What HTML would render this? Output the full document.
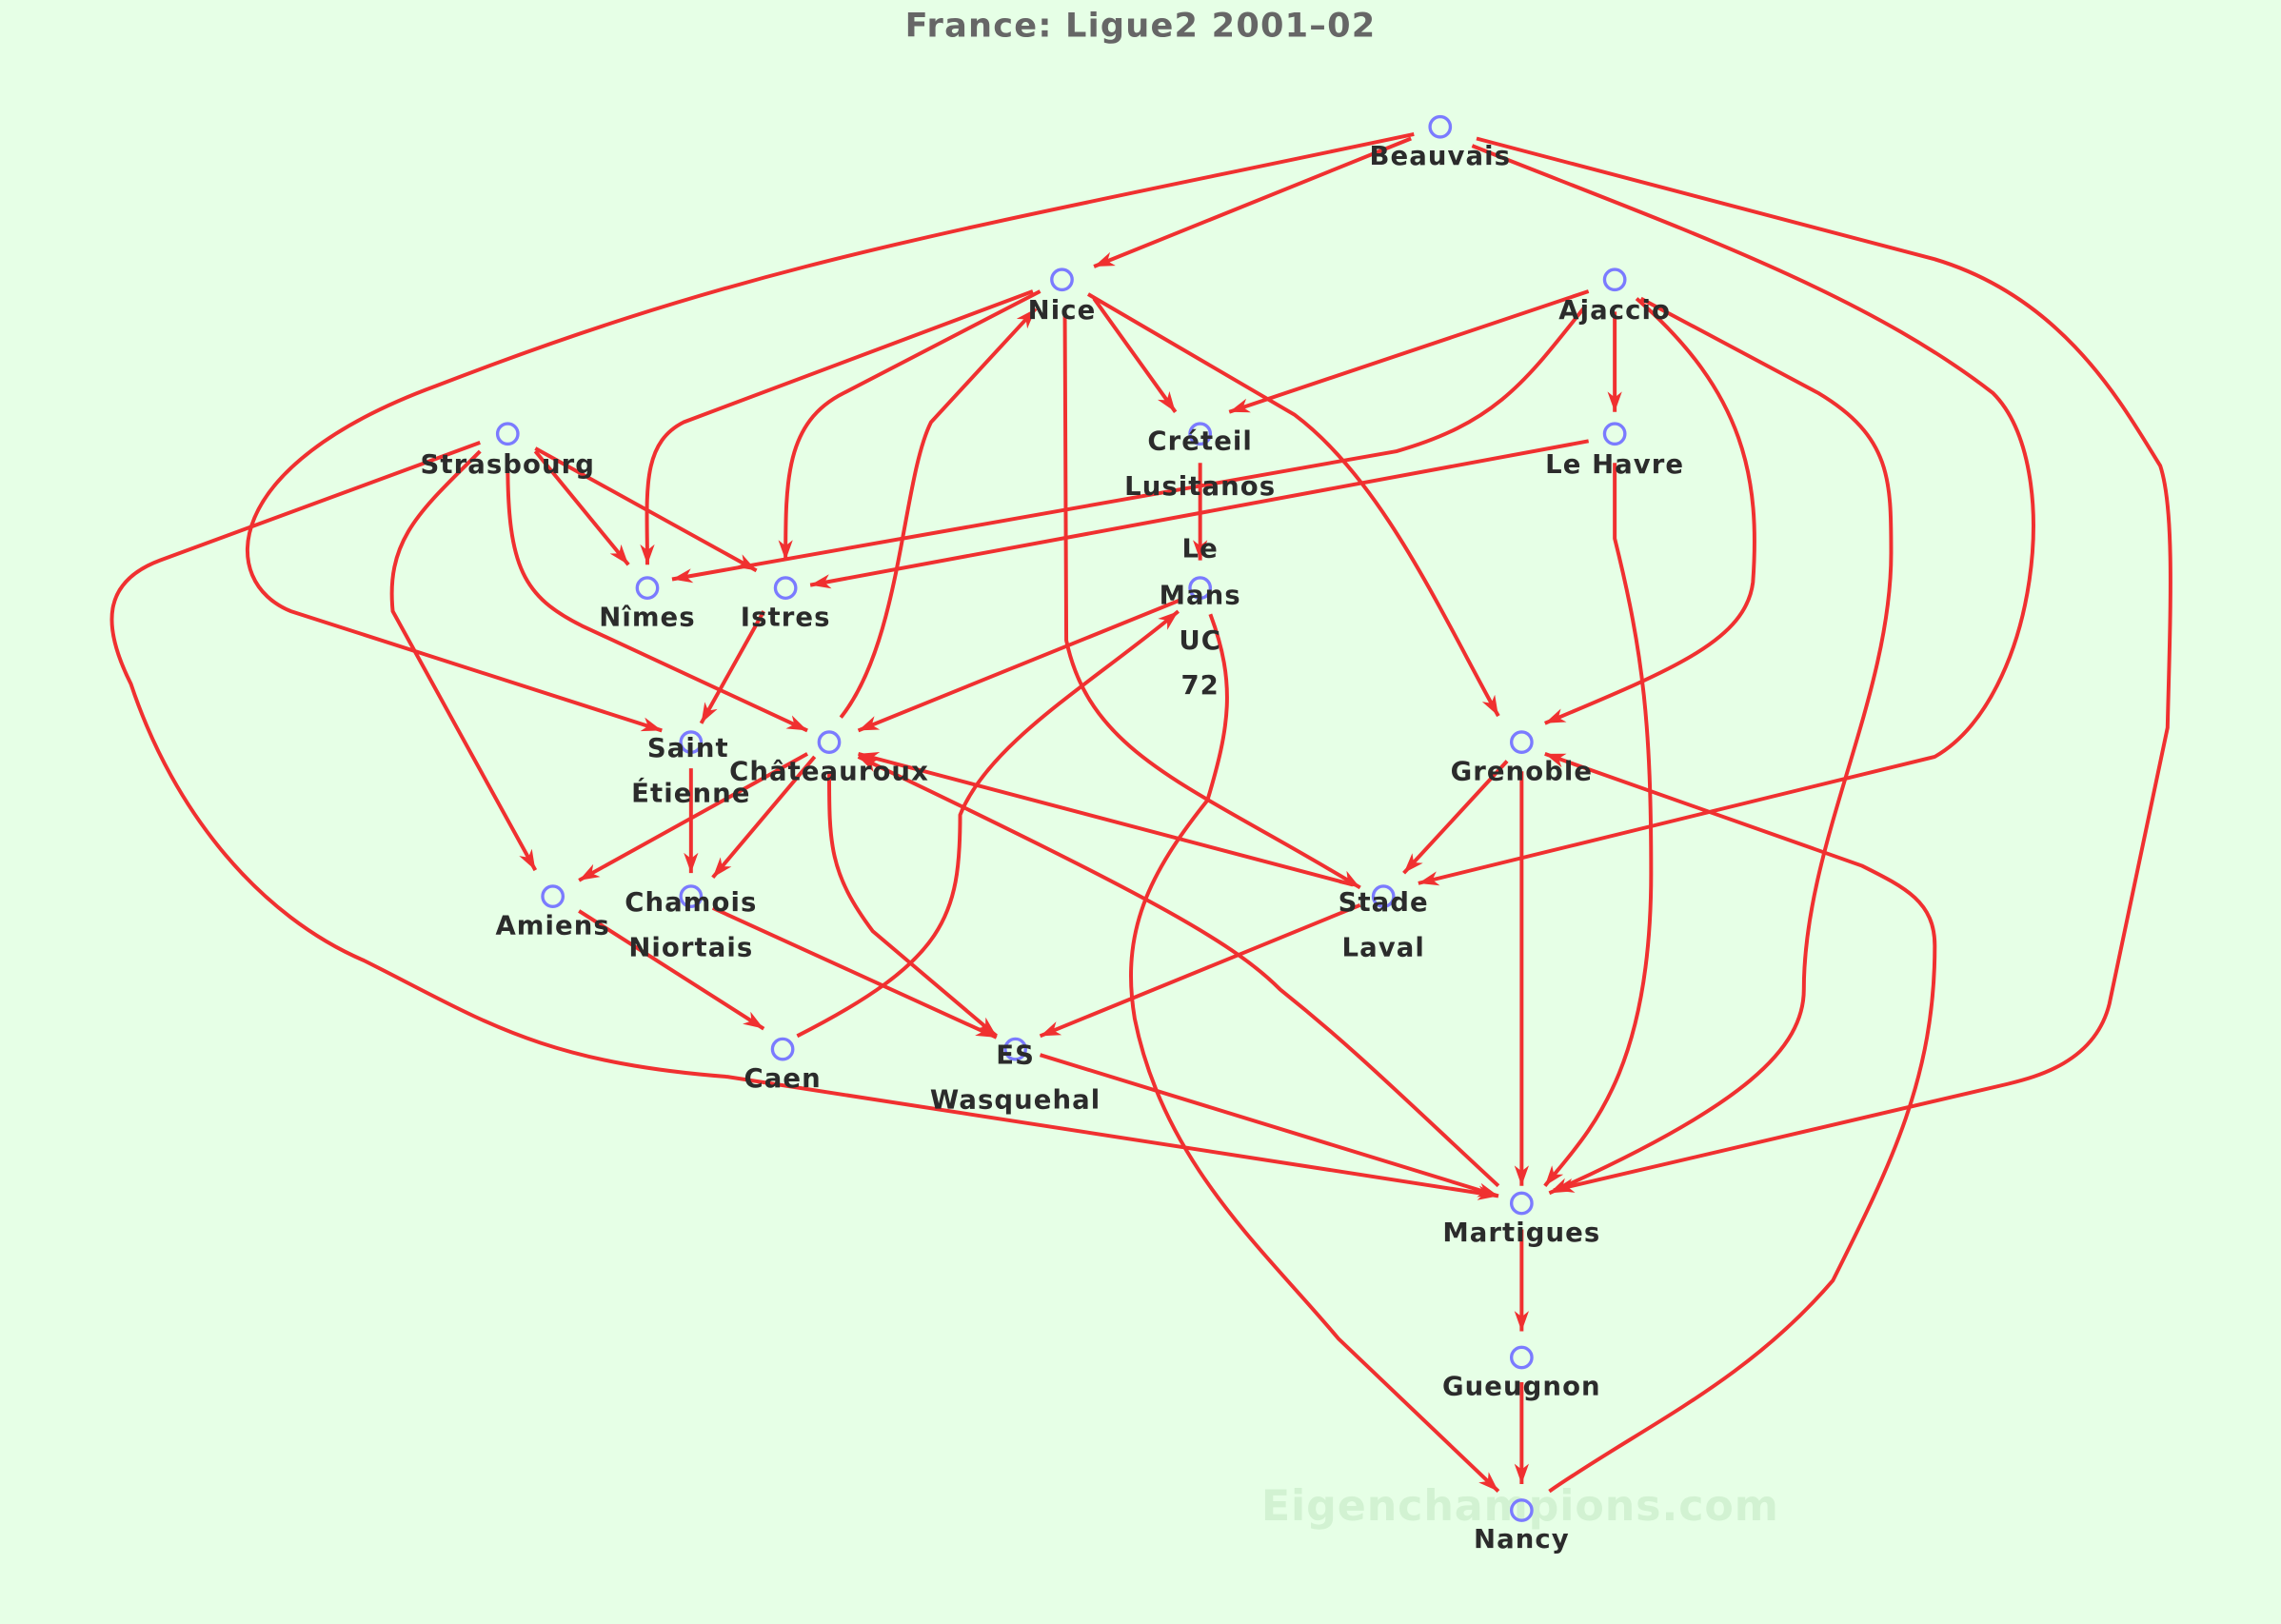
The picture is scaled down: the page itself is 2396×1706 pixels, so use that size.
<!DOCTYPE html>
<html><head><meta charset="utf-8"><style>
html,body{margin:0;padding:0;background:#e6ffe6;}
svg{display:block;}
text{font-family:"DejaVu Sans","Liberation Sans",sans-serif;font-weight:bold;}
</style></head><body>
<svg width="2396" height="1706" viewBox="0 0 1568 1116" xmlns="http://www.w3.org/2000/svg">
<defs>
<marker id="a" markerUnits="userSpaceOnUse" markerWidth="16" markerHeight="12" refX="14" refY="5" orient="auto">
<path d="M0,0 L14,5 L0,10 L4,5 Z" fill="#f03030"/>
</marker>
</defs>
<rect width="1568" height="1116" fill="#e6ffe6"/>
<text x="784" y="25" text-anchor="middle" font-size="23" letter-spacing="0.8" fill="#666">France: Ligue2 2001–02</text>
<text x="1045" y="1045" text-anchor="middle" font-size="29" letter-spacing="0.6" fill="#d2f2d2">Eigenchampions.com</text>
<g fill="none" stroke="#f03030" stroke-width="2.6" marker-end="url(#a)">
<path d="M970,95 L752,183"/>
<path d="M972,92 C650,160 520,180 300,265 C150,320 150,400 200,420 L455,502"/>
<path d="M1012,100 C1150,155 1280,200 1370,270 C1420,320 1400,480 1330,520 L975,607"/>
<path d="M1015,95 L1330,178 C1420,205 1460,280 1485,320 C1495,350 1492,420 1490,500 L1450,690 C1440,730 1400,740 1380,745 L1068,818"/>
<path d="M710,200 L470,290 C440,305 445,340 445,388"/>
<path d="M715,200 L580,270 C540,290 540,330 540,385"/>
<path d="M752,205 L808,283"/>
<path d="M748,202 L890,285 C950,330 990,420 1030,492"/>
<path d="M732,215 L733,440 C750,520 820,540 935,610"/>
<path d="M578,493 C620,440 620,330 640,290 L712,212"/>
<path d="M1092,200 L845,283"/>
<path d="M1090,210 C1050,260 1030,290 960,310 L462,398"/>
<path d="M1110,214 L1110,283"/>
<path d="M1125,205 C1200,270 1210,330 1205,400 C1200,440 1150,460 1062,497"/>
<path d="M1128,205 L1250,270 C1300,300 1300,330 1300,380 C1300,480 1240,580 1240,680 C1240,720 1200,760 1065,820"/>
<path d="M1092,303 L557,402"/>
<path d="M1110,318 L1110,370 C1130,450 1135,500 1135,600 C1135,740 1090,780 1062,815"/>
<path d="M368,310 L432,388"/>
<path d="M368,308 L520,392"/>
<path d="M330,310 C290,350 265,370 270,420 L368,598"/>
<path d="M349,318 C349,390 360,410 400,430 L555,502"/>
<path d="M330,304 L110,385 C70,400 70,430 90,470 C120,560 180,630 250,660 C330,700 370,730 500,740 L1030,822"/>
<path d="M825,318 L825,385"/>
<path d="M812,412 L590,502"/>
<path d="M548,712 C650,660 660,630 660,560 C680,510 750,470 810,420"/>
<path d="M832,422 C850,470 845,500 830,550 C790,600 770,640 780,700 C800,800 870,860 920,920 L1030,1025"/>
<path d="M525,420 L482,497"/>
<path d="M475,528 L475,600"/>
<path d="M555,518 L398,605"/>
<path d="M560,520 L490,603"/>
<path d="M570,530 C570,580 570,600 600,640 L685,712"/>
<path d="M930,608 L590,518"/>
<path d="M1030,815 C960,750 930,720 880,680 C850,650 800,620 590,520"/>
<path d="M1036,523 L965,600"/>
<path d="M1046,530 L1046,815"/>
<path d="M1065,1025 C1130,980 1200,950 1260,880 C1300,800 1330,740 1330,650 C1330,620 1310,610 1280,595 L1062,518"/>
<path d="M935,622 L715,712"/>
<path d="M490,624 L685,713"/>
<path d="M398,626 L525,707"/>
<path d="M715,725 L1030,822"/>
<path d="M1046,845 L1046,915"/>
<path d="M1046,950 L1046,1020"/>
</g>
<g fill="none" stroke="#7b7bff" stroke-width="2.2">
<circle cx="990" cy="87" r="7"/><circle cx="730" cy="192" r="7"/><circle cx="1110" cy="192" r="7"/>
<circle cx="349" cy="298" r="7"/><circle cx="825" cy="298" r="7"/><circle cx="1110" cy="298" r="7"/>
<circle cx="445" cy="404" r="7"/><circle cx="540" cy="404" r="7"/><circle cx="825" cy="404" r="7"/>
<circle cx="475" cy="510" r="7"/><circle cx="570" cy="510" r="7"/><circle cx="1046" cy="510" r="7"/>
<circle cx="380" cy="616" r="7"/><circle cx="475" cy="616" r="7"/><circle cx="951" cy="616" r="7"/>
<circle cx="538" cy="721" r="7"/><circle cx="698" cy="721" r="7"/>
<circle cx="1046" cy="827" r="7"/><circle cx="1046" cy="933" r="7"/><circle cx="1046" cy="1038" r="7"/>
</g>
<g font-size="18" letter-spacing="0.7" fill="#2b2b2b" text-anchor="middle">
<text x="990" y="113">Beauvais</text>
<text x="730" y="219">Nice</text>
<text x="1110" y="219">Ajaccio</text>
<text x="349" y="325">Strasbourg</text>
<text x="825" y="309">Créteil</text><text x="825" y="340">Lusitanos</text>
<text x="1110" y="325">Le Havre</text>
<text x="445" y="430">Nîmes</text>
<text x="540" y="430">Istres</text>
<text x="825" y="383">Le</text><text x="825" y="415">Mans</text><text x="825" y="446">UC</text><text x="825" y="477">72</text>
<text x="473" y="520">Saint</text><text x="475" y="551">Étienne</text>
<text x="570" y="536">Châteauroux</text>
<text x="1046" y="536">Grenoble</text>
<text x="380" y="642">Amiens</text>
<text x="475" y="626">Chamois</text><text x="475" y="657">Niortais</text>
<text x="951" y="626">Stade</text><text x="951" y="657">Laval</text>
<text x="538" y="747">Caen</text>
<text x="698" y="731">ES</text><text x="698" y="762">Wasquehal</text>
<text x="1046" y="853">Martigues</text>
<text x="1046" y="959">Gueugnon</text>
<text x="1046" y="1064">Nancy</text>
</g>
</svg>
</body></html>
